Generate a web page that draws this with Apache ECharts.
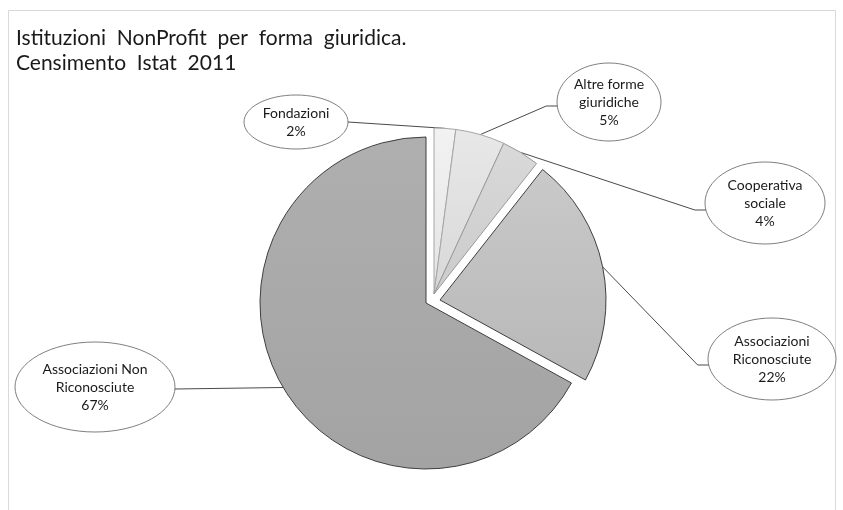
<!DOCTYPE html>
<html>
<head>
<meta charset="utf-8">
<script src="https://cdn.jsdelivr.net/npm/echarts@6/dist/echarts.min.js"></script>
<style>
html,body{margin:0;padding:0;background:#fff;}
#chart{width:843px;height:510px;}
</style>
</head>
<body>
<div id="chart"></div>
<script>
// ---- data ----
const categories = ['Fondazioni', 'Altre forme giuridiche', 'Cooperativa sociale', 'Associazioni Riconosciute', 'Associazioni Non Riconosciute'];
const labelNames = ['Fondazioni', 'Altre forme\ngiuridiche', 'Cooperativa\nsociale', 'Associazioni\nRiconosciute', 'Associazioni Non\nRiconosciute'];
const values = [2.1, 4.8, 3.7, 22.4, 67.0];
const titleLines = ['Istituzioni  NonProfit  per  forma  giuridica.', 'Censimento  Istat  2011'];

// ---- styles / layout ----
const fills = [
  ['#f2f2f2', '#e4e4e4'],
  ['#e8e8e8', '#d8d8d8'],
  ['#d9d9d9', '#cbcbcb'],
  ['#c9c9c9', '#b8b8b8'],
  ['#afafaf', '#a3a3a3']
];
const borders = ['#a6a6a6', '#a6a6a6', '#9a9a9a', '#3f3f3f', '#3f3f3f'];
// label ellipses: cx, cy, rx, ry, anchor dy, side (1 = line leaves to the right of ellipse)
const boxes = [
  [296, 122, 52, 27, 0, 1],
  [609, 102, 52, 39, 4, -1],
  [765, 203, 60, 41, 7, -1],
  [772, 359, 64, 41, 6, -1],
  [95, 387, 80, 45, 2, 1]
];
const bendLen = [0, 11, 11, 11, 0];
// pie layers: which slices each layer shows, and its centre
const groups = [
  {show: [0, 1, 2], center: [434, 294]},
  {show: [3], center: [440, 300]},
  {show: [4], center: [426, 303]}
];
const R = 166;

function grad(c) {
  return {type: 'linear', x: 0, y: 0, x2: 0, y2: 1, colorStops: [{offset: 0, color: c[0]}, {offset: 1, color: c[1]}]};
}

function anchorOf(i) {
  const b = boxes[i];
  const dy = b[4];
  const dx = b[2] * Math.sqrt(1 - (dy / b[3]) * (dy / b[3]));
  return [b[0] + b[5] * dx, b[1] + dy];
}

const series = groups.map(function (g) {
  return {
    type: 'pie',
    center: g.center,
    radius: R,
    startAngle: 90,
    clockwise: true,
    avoidLabelOverlap: false,
    silent: true,
    animation: false,
    emphasis: {disabled: true},
    data: values.map(function (v, i) {
      const vis = g.show.indexOf(i) >= 0;
      return {
        name: categories[i],
        value: v,
        itemStyle: vis ? {color: grad(fills[i]), borderColor: borders[i], borderWidth: 1} : {color: 'rgba(0,0,0,0)', borderWidth: 0},
        label: {show: vis},
        labelLine: {show: vis}
      };
    }),
    label: {
      position: 'outside',
      formatter: function (p) { return labelNames[p.dataIndex] + '\n' + Math.round(p.percent) + '%'; },
      fontFamily: 'Lato',
      fontSize: 14,
      lineHeight: 18,
      color: '#1a1a1a',
      align: 'center'
    },
    labelLine: {
      show: true,
      length: 10,
      length2: 10,
      smooth: false,
      lineStyle: {color: '#4a4a4a', width: 1}
    },
    labelLayout: function (p) {
      const i = p.dataIndex;
      const b = boxes[i];
      const a = anchorOf(i);
      const start = p.labelLinePoints ? p.labelLinePoints[0] : a;
      const bend = [a[0] + b[5] * bendLen[i], a[1]];
      return {
        x: b[0], y: b[1], align: 'center', verticalAlign: 'middle',
        labelLinePoints: [start, bend, a]
      };
    }
  };
});

const graphics = [
  {type: 'rect', z: 0, silent: true, shape: {x: 8.5, y: 10.5, width: 827, height: 530}, style: {fill: 'none', stroke: '#d9d9d9', lineWidth: 1}}
].concat(boxes.map(function (b) {
  return {type: 'ellipse', z: 1, silent: true, shape: {cx: b[0], cy: b[1], rx: b[2], ry: b[3]}, style: {fill: '#ffffff', stroke: '#7f7f7f', lineWidth: 1}};
}));

const chart = echarts.init(document.getElementById('chart'), null, {renderer: 'canvas'});
chart.setOption({
  backgroundColor: '#ffffff',
  animation: false,
  title: {
    text: titleLines.join('\n'),
    left: 11,
    top: 21,
    textStyle: {fontFamily: 'Lato', fontSize: 21, fontWeight: 'normal', color: '#1a1a1a', lineHeight: 25}
  },
  graphic: graphics,
  series: series
});
</script>
</body>
</html>
